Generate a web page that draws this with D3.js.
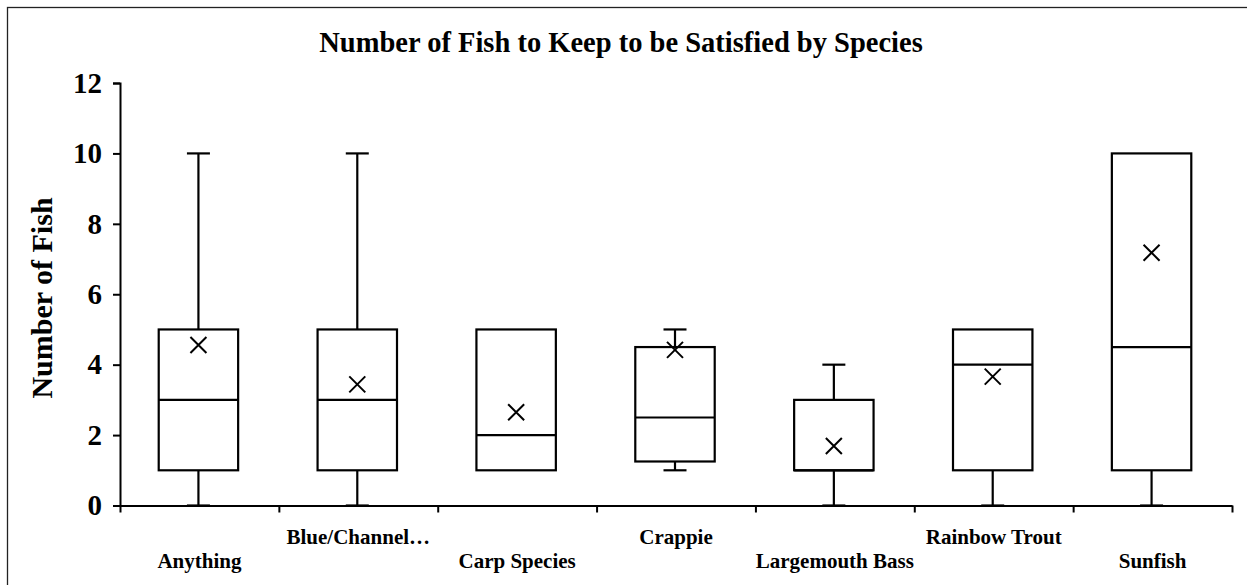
<!DOCTYPE html>
<html>
<head>
<meta charset="utf-8">
<script src="https://cdn.jsdelivr.net/npm/d3@7.9.0/dist/d3.min.js"></script>
<style>
  body { margin: 0; background: #fff; }
  svg { display: block; font-family: "Liberation Serif", "Times New Roman", serif; font-weight: bold; }
</style>
</head>
<body>
<svg id="chart" width="1247" height="585"></svg>
<script>
// box plot values
const categories = ['Anything', 'Blue/Channel…', 'Carp Species', 'Crappie', 'Largemouth Bass', 'Rainbow Trout', 'Sunfish'];
const mins    = [0, 0, 1, 1, 0, 0, 0];
const q1s     = [1, 1, 1, 1.25, 1, 1, 1];
const medians = [3, 3, 2, 2.5, 1, 4, 4.5];
const q3s     = [5, 5, 5, 4.5, 3, 5, 10];
const maxs    = [10, 10, 5, 5, 4, 5, 10];
const means   = [4.56, 3.44, 2.65, 4.42, 1.69, 3.66, 7.18];
const yTicks  = [0, 2, 4, 6, 8, 10, 12];

const boxes = categories.map((name, i) => ({
  name, i,
  min: mins[i], q1: q1s[i], median: medians[i], q3: q3s[i], max: maxs[i], mean: means[i]
}));

const width = 1247;
const height = 585;
const svg = d3.select('#chart');

// outer frame
svg.append('rect')
  .attr('x', 7.5).attr('y', 7.5)
  .attr('width', width).attr('height', height)
  .attr('fill', 'none').attr('stroke', '#222').attr('stroke-width', 1.3);

const plot = { left: 120, right: 1232, top: 83, bottom: 505.5 };

const x = d3.scaleBand().domain(categories).range([plot.left, plot.right]).padding(0);
const xIdx = d3.scaleLinear().domain([0, categories.length]).range([plot.left, plot.right]);
const y = d3.scaleLinear().domain([0, 12]).range([plot.bottom, plot.top]);

// title
svg.append('text')
  .attr('x', 621).attr('y', 52)
  .attr('text-anchor', 'middle')
  .attr('font-size', 28.5)
  .text('Number of Fish to Keep to be Satisfied by Species');

// y axis
const yAxis = svg.append('g')
  .attr('transform', `translate(${plot.left},0)`)
  .call(d3.axisLeft(y).tickValues(yTicks).tickSize(7).tickPadding(11).tickFormat(d3.format('d')))
  .attr('font-family', null)
  .attr('font-size', 29);
yAxis.selectAll('text').attr('fill', '#000');
yAxis.selectAll('line, path').attr('stroke', '#000').attr('stroke-width', 2);

// x axis with ticks at category boundaries
const xAxis = svg.append('g')
  .attr('transform', `translate(0,${plot.bottom})`)
  .call(d3.axisBottom(xIdx).tickValues(d3.range(categories.length + 1)).tickSize(7).tickSizeOuter(0).tickFormat(''));
xAxis.selectAll('line, path').attr('stroke', '#000').attr('stroke-width', 2);

// category labels, staggered in two rows
svg.append('g').selectAll('text')
  .data(boxes)
  .join('text')
  .attr('x', d => x(d.name) + x.bandwidth() / 2)
  .attr('y', d => d.i % 2 === 1 ? 544 : 568)
  .attr('text-anchor', 'middle')
  .attr('font-size', 21)
  .text(d => d.name);

// y axis title
svg.append('text')
  .attr('transform', 'translate(52,298) rotate(-90)')
  .attr('text-anchor', 'middle')
  .attr('font-size', 30)
  .text('Number of Fish');

// boxes
const boxW = x.bandwidth() * 0.5;
const capW = 23;
const g = svg.append('g').attr('stroke', '#000').attr('stroke-width', 2.2).attr('fill', 'none');

const box = g.selectAll('g.box')
  .data(boxes)
  .join('g')
  .attr('class', 'box')
  .attr('transform', d => `translate(${x(d.name) + x.bandwidth() / 2 - 1},0)`);

// whiskers
box.filter(d => d.max > d.q3).append('line')
  .attr('x1', 0).attr('x2', 0).attr('y1', d => y(d.q3)).attr('y2', d => y(d.max));
box.filter(d => d.max > d.q3).append('line')
  .attr('x1', -capW / 2).attr('x2', capW / 2).attr('y1', d => y(d.max)).attr('y2', d => y(d.max));
box.filter(d => d.min < d.q1).append('line')
  .attr('x1', 0).attr('x2', 0).attr('y1', d => y(d.q1)).attr('y2', d => y(d.min));
box.filter(d => d.min < d.q1).append('line')
  .attr('x1', -capW / 2).attr('x2', capW / 2).attr('y1', d => y(d.min)).attr('y2', d => y(d.min));

box.append('rect')
  .attr('x', -boxW / 2).attr('width', boxW)
  .attr('y', d => y(d.q3)).attr('height', d => y(d.q1) - y(d.q3))
  .attr('fill', '#fff');

box.append('line')
  .attr('x1', -boxW / 2).attr('x2', boxW / 2)
  .attr('y1', d => y(d.median)).attr('y2', d => y(d.median));

// mean markers
box.append('path')
  .attr('transform', d => `translate(0,${y(d.mean)})`)
  .attr('d', 'M-8,-8L8,8M-8,8L8,-8')
  .attr('stroke-width', 2);
</script>
</body>
</html>
